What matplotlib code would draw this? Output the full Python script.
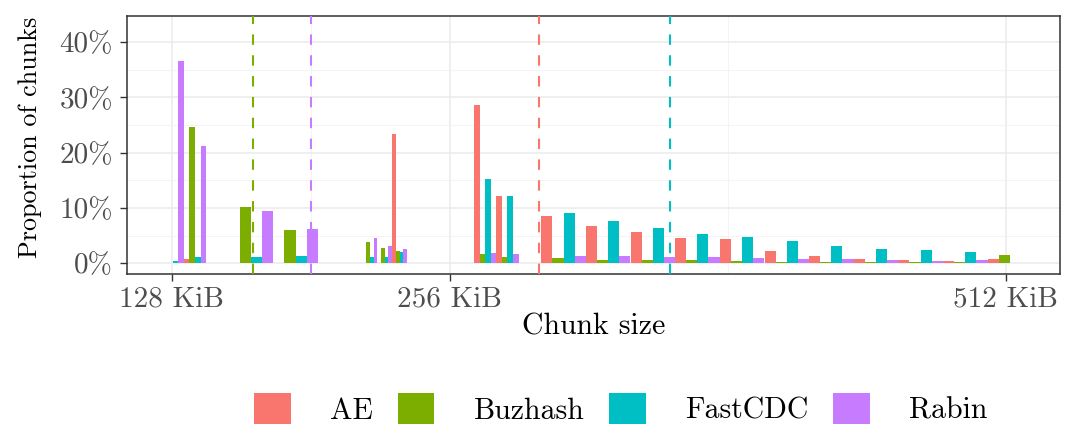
import matplotlib
matplotlib.use("Agg")
import matplotlib.pyplot as plt
from matplotlib.patches import Patch
import numpy as np

plt.rcParams["font.family"] = ["cmr10", "DejaVu Serif"]
plt.rcParams["mathtext.fontset"] = "cm"
plt.rcParams["axes.unicode_minus"] = False
plt.rcParams["axes.formatter.use_mathtext"] = True

# chunk size bins (KiB): centre and width of each bin
bin_centre_kib = [128.4, 138.7, 164.5, 185.0, 219.3, 226.0, 232.9, 272.3, 282.6,
                  308.4, 328.9, 349.5, 370.0, 390.6, 411.2, 431.7, 452.3, 472.8,
                  493.4, 513.9]
bin_width_kib = [10.3, 10.3, 20.5, 20.5, 6.85, 6.85, 6.85, 10.3, 10.3,
                 20.5, 20.5, 20.5, 20.5, 20.5, 20.5, 20.5, 20.5, 20.5, 20.5, 20.5]

# proportion of chunks (%) per bin
ae = [0.0, 0.8, 0.1, 0.1, 0.1, 0.1, 23.4, 28.6, 12.2,
      8.56, 6.75, 5.67, 4.58, 4.4, 2.23, 1.32, 0.78, 0.6, 0.42, 0.78]
buzhash = [0.0, 24.7, 10.2, 6.0, 3.85, 2.77, 2.23, 1.68, 1.14,
           1.0, 0.6, 0.6, 0.6, 0.42, 0.24, 0.24, 0.24, 0.22, 0.22, 1.5]
fastcdc = [0.4, 1.1, 1.1, 1.3, 1.14, 1.14, 2.05, 15.26, 12.18,
           9.16, 7.66, 6.39, 5.3, 4.76, 4.04, 3.13, 2.59, 2.41, 2.05, 0.0]
rabin = [36.6, 21.2, 9.5, 6.2, 4.58, 3.13, 2.59, 1.86, 1.68,
         1.3, 1.3, 1.14, 1.14, 0.96, 0.78, 0.78, 0.6, 0.42, 0.6, 0.0]

# mean chunk size per algorithm (KiB)
algorithms = ["AE", "Buzhash", "FastCDC", "Rabin"]
mean_kib = [297.1, 165.3, 357.4, 192.1]
colors = ["#F8766D", "#7CAE00", "#00BFC4", "#C77CFF"]

fig = plt.figure(figsize=(10.67, 4.28), dpi=100)
ax = fig.add_axes([127 / 1067, 1 - 274.3 / 428, 933 / 1067, 258.6 / 428])

centres = np.array(bin_centre_kib)
widths = np.array(bin_width_kib)
sub = widths / 4
for j, (vals, col) in enumerate(zip([ae, buzhash, fastcdc, rabin], colors)):
    left = centres - widths / 2 + j * sub
    ax.bar(left, vals, width=sub, align="edge", color=col, linewidth=0, zorder=2)

for m, col in zip(mean_kib, colors):
    ax.axvline(m, color=col, lw=1.5, ls=(0, (5.0, 5.0)), zorder=3)

ax.set_xlim(107.4, 537.0)
ax.set_ylim(-2.0, 44.8)

ax.set_xticks([128, 256, 512])
ax.set_xticklabels(["128 KiB", "256 KiB", "512 KiB"])
ax.set_xticks([192, 384], minor=True)
ax.set_yticks([0, 10, 20, 30, 40])
ax.set_yticklabels(["0%", "10%", "20%", "30%", "40%"])
ax.set_yticks([5, 15, 25, 35], minor=True)

ax.grid(which="major", color="#EBEBEB", lw=1.1, zorder=0)
ax.grid(which="minor", color="#F2F2F2", lw=0.6, zorder=0)
ax.set_axisbelow(True)

for s in ax.spines.values():
    s.set_color("#333333")
    s.set_linewidth(1.1)

ax.tick_params(which="major", length=5, width=1.0, color="#333333",
               labelcolor="#4D4D4D", labelsize=21)
ax.tick_params(axis="x", pad=3.5)
ax.tick_params(axis="y", pad=5)
ax.tick_params(which="minor", length=0)

ax.set_xlabel("Chunk size", fontsize=21.5, va="center")
ax.xaxis.set_label_coords(0.5, -0.204)
ax.set_ylabel("Proportion of chunks", fontsize=18.8, va="center")
ax.yaxis.set_label_coords(-0.104, 0.53)

handles = [Patch(facecolor=c, edgecolor="none") for c in colors]
fig.legend(handles, algorithms, loc="center", bbox_to_anchor=(0.582, 0.045),
           ncol=4, frameon=False, fontsize=21.5, handlelength=1.22, handleheight=1.24,
           handletextpad=1.33, columnspacing=0.82)

fig.savefig("out.png", dpi=100)
